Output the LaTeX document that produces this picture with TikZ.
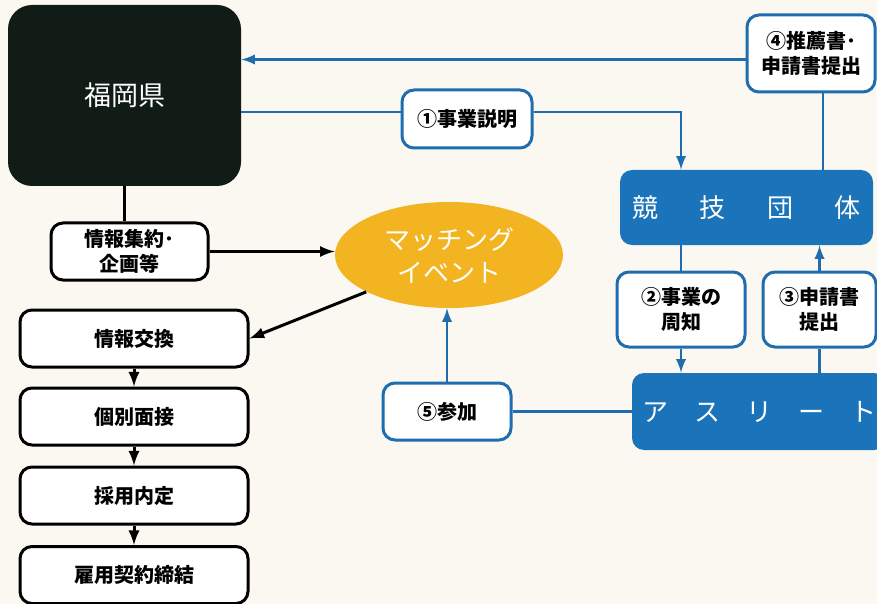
\documentclass[tikz,border=0pt]{standalone}
\usepackage{fontspec}
\setmainfont{Noto Sans CJK JP}
\usetikzlibrary{shapes.geometric}

\definecolor{kenfill}{HTML}{121C17}
\definecolor{bluefill}{HTML}{1B74B9}
\definecolor{blueline}{HTML}{1F6DAF}
\definecolor{eventfill}{HTML}{F2B420}
\definecolor{paper}{HTML}{FAF8F1}

\begin{document}
\begin{tikzpicture}[x=0.5pt, y=-0.5pt, every node/.style={align=center, inner sep=0pt}]
    \tikzstyle{dline}=[line width=1.5pt, draw=black]
    \tikzstyle{bline}=[line width=1.3pt, draw=blueline]
    \tikzstyle{darrs}=[dline,-latex]
    \tikzstyle{barrs}=[bline,-latex]
    \tikzstyle{wbox}=[draw=black, line width=1.5pt, fill=white, rounded corners=6pt, font=\fontsize{10}{12.5}\selectfont\bfseries]
    \tikzstyle{bwbox}=[wbox, draw=blueline]
    \tikzstyle{bbox}=[fill=bluefill, rounded corners=6pt, text=white, font=\fontsize{13}{15}\selectfont]

    \fill[paper] (0,0) rectangle (877,604);
    \useasboundingbox (0,0) rectangle (877,604);

    % left side
    \node[fill=kenfill, rounded corners=12pt, minimum width=116.5pt, minimum height=90.5pt,
          text=white, font=\fontsize{13.5}{16}\selectfont] (ken) at (124.5,95.5) {福岡県};
    \node[wbox, minimum width=78.5pt, minimum height=28.5pt] (kikaku) at (129.5,251.5) {情報集約･\\企画等};
    \node[ellipse, fill=eventfill, minimum width=114pt, minimum height=53pt, text=white,
          font=\fontsize{13}{16.5}\selectfont] (event) at (449,255) {マッチング\\イベント};

    \foreach \name/\y/\txt in {jokan/338.5/情報交換, mensetsu/416.5/個別面接, naitei/495.5/採用内定, keiyaku/575/雇用契約締結} {
        \node[wbox, minimum width=114pt, minimum height=28.5pt] (\name) at (134,\y) {\txt};
    }
    \foreach \a/\b in {jokan/mensetsu, mensetsu/naitei, naitei/keiyaku} {
        \draw[darrs] (\a) -- (\b);
    }

    % right side
    \node[bwbox, minimum width=65pt, minimum height=29pt] (setsumei) at (467,119) {①事業説明};
    \node[bwbox, minimum width=64pt, minimum height=38.5pt] (suisen) at (811,53.5) {④推薦書･\\申請書提出};
    \node[bbox, minimum width=126.5pt, minimum height=37.5pt] (dantai) at (746.5,207.5)
        {競\hspace{1.6em}技\hspace{1.6em}団\hspace{1.6em}体};
    \node[bwbox, minimum width=64pt, minimum height=37.5pt] (shuchi) at (681,309.5) {②事業の\\周知};
    \node[bwbox, minimum width=56.5pt, minimum height=37.5pt] (shinsei) at (819.5,309.5) {③申請書\\提出};
    \node[bbox, minimum width=127pt, minimum height=38.5pt] (athlete) at (759,411.5)
        {ア\hspace{1em}ス\hspace{1em}リ\hspace{1em}ー\hspace{1em}ト};
    \node[bwbox, minimum width=64pt, minimum height=28.5pt] (sanka) at (447,411.5) {⑤参加};

    \draw[barrs] ([yshift=-3pt]suisen.west) -- ([yshift=-3pt]suisen.west -| ken.east);
    \draw[bline] ([yshift=3.5pt]setsumei.west) -- ([yshift=3.5pt]setsumei.west -| ken.east);
    \draw[barrs] ([yshift=3.5pt]setsumei.east) -| (shuchi.north |- dantai.north);
    \draw[bline] ([xshift=6pt]suisen.south) -- ([xshift=6pt]suisen.south |- dantai.north);
    \draw[bline] (shuchi.north |- dantai.south) -- (shuchi.north);
    \draw[barrs] (shuchi.south) -- (shuchi.south |- athlete.north);
    \draw[bline] (shinsei.south |- athlete.north) -- (shinsei.south);
    \draw[barrs] (shinsei.north) -- (shinsei.north |- dantai.south);
    \draw[bline] (athlete.west) -- (sanka.east);
    \draw[barrs] (sanka.north) -- (sanka.north |- event.south);

    \draw[dline] (ken.south) -- (ken.south |- kikaku.north);
    \draw[darrs] (kikaku.east) -- (event.west |- kikaku.east);
    \draw[darrs] (event.204) -- (jokan.east);

\end{tikzpicture}
\end{document}
